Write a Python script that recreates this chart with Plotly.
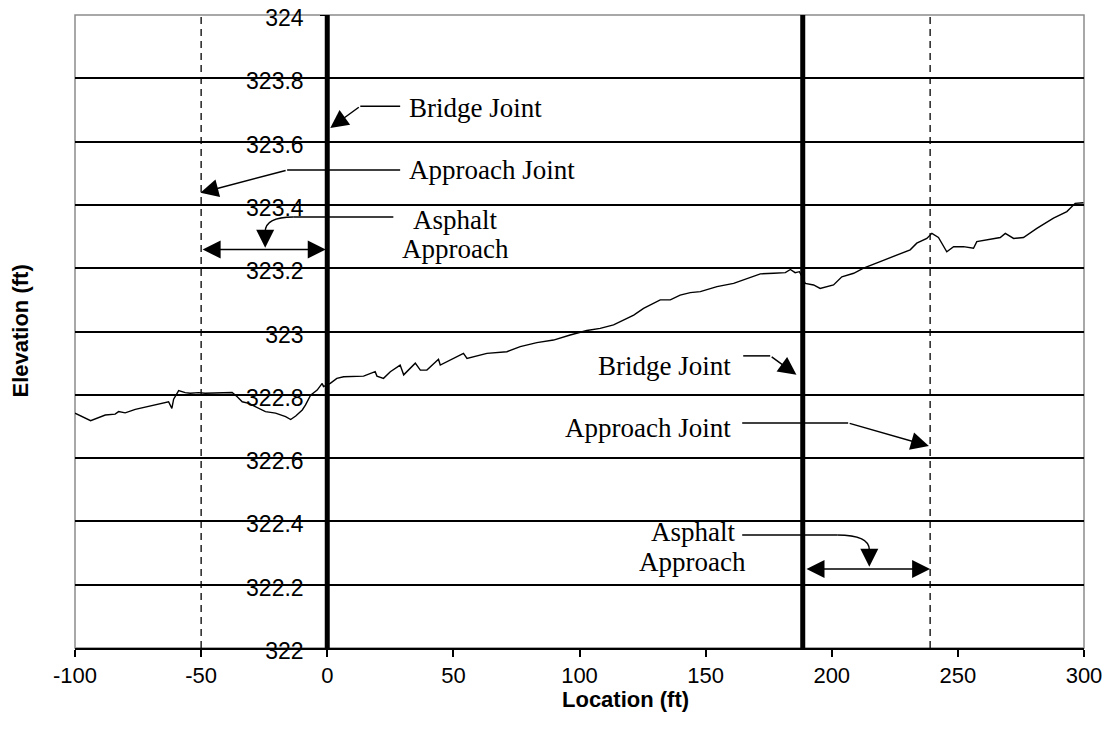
import plotly.graph_objects as go

# ---- data ----
location_ft = [-100, -93.8, -88.0, -84.1, -82.7, -80.1, -76.1, -69.4, -62.9, -61.6, -60.9, -58.9,
               -56.3, -54.3, -51.0, -48.4, -37.7, -35.7, -33.7, -31.1, -27.1, -24.5, -20.5, -16.5,
               -14.5, -12.5, -9.9, -8.6, -6.6, -4.0, -2.0, -1.5, 1.2, 3.8, 6.5, 14.4, 19.0, 19.7,
               22.3, 25.0, 28.9, 30.3, 34.9, 36.9, 39.5, 44.1, 44.8, 50.1, 54.0, 55.4, 63.3, 71.2,
               76.5, 83.1, 89.7, 96.3, 102.9, 108.2, 113.5, 121.5, 125.4, 132.0, 136.0, 139.9,
               143.9, 147.9, 154.5, 161.1, 166.4, 171.7, 177.0, 181.6, 183.6, 185.5, 187.2, 189.5,
               192.8, 195.4, 200.7, 204.0, 208.7, 212.6, 219.2, 225.8, 231.1, 233.7, 237.7, 239.7,
               242.3, 245.6, 248.3, 252.2, 256.2, 257.5, 261.5, 266.8, 268.8, 272.1, 276.0, 281.3,
               287.9, 293.2, 296.5, 299.8]
elevation_ft = [322.742, 322.718, 322.736, 322.739, 322.747, 322.743, 322.754, 322.765, 322.778,
                322.757, 322.786, 322.813, 322.807, 322.805, 322.807, 322.805, 322.807, 322.794,
                322.778, 322.773, 322.757, 322.747, 322.742, 322.731, 322.722, 322.733, 322.752,
                322.768, 322.799, 322.815, 322.836, 322.826, 322.836, 322.852, 322.857, 322.859,
                322.873, 322.859, 322.852, 322.873, 322.894, 322.863, 322.900, 322.878, 322.878,
                322.912, 322.894, 322.915, 322.931, 322.915, 322.931, 322.936, 322.952, 322.965,
                322.973, 322.989, 323.003, 323.010, 323.021, 323.052, 323.073, 323.100, 323.100,
                323.115, 323.123, 323.126, 323.142, 323.152, 323.168, 323.182, 323.184, 323.186,
                323.196, 323.186, 323.189, 323.152, 323.147, 323.136, 323.147, 323.173, 323.184,
                323.200, 323.221, 323.242, 323.258, 323.279, 323.294, 323.310, 323.297, 323.252,
                323.268, 323.268, 323.263, 323.284, 323.289, 323.297, 323.310, 323.294, 323.297,
                323.326, 323.358, 323.379, 323.405, 323.407]

bridge_joints = [0, 188.5]
approach_joints = [-50, 239]
x_range = [-100, 300]
y_range = [322, 324]
x_ticks = [-100, -50, 0, 50, 100, 150, 200, 250, 300]
x_tick_labels = ["-100", "-50", "0", "50", "100", "150", "200", "250", "300"]
y_ticks = [322, 322.2, 322.4, 322.6, 322.8, 323, 323.2, 323.4, 323.6, 323.8, 324]
y_tick_labels = ["322", "322.2", "322.4", "322.6", "322.8", "323", "323.2", "323.4", "323.6", "323.8", "324"]

SERIF = "Liberation Serif, Times New Roman, serif"
SANS = "Liberation Sans, Arial, sans-serif"

FIG_W, FIG_H = 1109, 745
ML, MR, MT, MB = 75, 25, 15, 97
PW = FIG_W - ML - MR
PH = FIG_H - MT - MB

fig = go.Figure()
fig.add_trace(go.Scatter(x=location_ft, y=elevation_ft, mode="lines",
                         line=dict(color="black", width=1.4), showlegend=False, hoverinfo="skip"))

shapes = []
# plot border (grey)
shapes.append(dict(type="rect", xref="paper", yref="paper", x0=0, x1=1, y0=0, y1=1,
                   line=dict(color="#8c8c8c", width=1.5), layer="below"))
for bj in bridge_joints:
    shapes.append(dict(type="line", xref="x", yref="y", x0=bj, x1=bj, y0=y_range[0], y1=y_range[1],
                       line=dict(color="black", width=5)))
for aj in approach_joints:
    shapes.append(dict(type="line", xref="x", yref="y", x0=aj, x1=aj, y0=y_range[0], y1=y_range[1],
                       line=dict(color="black", width=1.3, dash="7px,5px")))

def hline(xa, xb, y):
    shapes.append(dict(type="line", xref="x", yref="y", x0=xa, x1=xb, y0=y, y1=y,
                       line=dict(color="black", width=1.5)))

def curve(x0, y0, cx, cy, x1, y1):
    shapes.append(dict(type="path", xref="x", yref="y",
                       path=f"M {x0},{y0} Q {cx},{cy} {x1},{y1}",
                       line=dict(color="black", width=1.5)))

annotations = []

def arrow(tail, tip, both=False):
    annotations.append(dict(x=tip[0], y=tip[1], ax=tail[0], ay=tail[1], xref="x", yref="y",
                            axref="x", ayref="y", text="", showarrow=True, arrowhead=2,
                            arrowsize=2.4, arrowwidth=1.5, arrowcolor="black", standoff=0,
                            startstandoff=0, arrowside="end+start" if both else "end",
                            startarrowhead=2, startarrowsize=2.4))

def label(text, x, y, xanchor):
    annotations.append(dict(x=x, y=y, xref="x", yref="y", text=text, showarrow=False,
                            xanchor=xanchor, yanchor="middle",
                            font=dict(family=SERIF, size=27, color="black")))

# Left side callouts
label("Bridge Joint", 31.7, 323.706, "left")
hline(28.9, 13.1, 323.712)
arrow((13.1, 323.712), (1.2, 323.643))

label("Approach Joint", 31.7, 323.510, "left")
hline(28.9, -15.9, 323.510)
arrow((-15.9, 323.510), (-50.3, 323.438))

label("Asphalt", 50.7, 323.352, "center")
label("Approach", 50.7, 323.261, "center")
hline(26.2, -13.5, 323.362)
curve(-13.5, 323.362, -24.6, 323.362, -24.6, 323.315)
arrow((-24.6, 323.315), (-24.6, 323.265))
arrow((-50, 323.259), (-0.6, 323.259), both=True)

# Right side callouts
label("Bridge Joint", 161.0, 322.891, "right")
hline(164.9, 175.6, 322.923)
arrow((175.6, 322.923), (186.0, 322.863))

label("Approach Joint", 161.0, 322.695, "right")
hline(164.5, 206.5, 322.711)
arrow((206.5, 322.711), (238.5, 322.638))

label("Asphalt", 144.9, 322.367, "center")
label("Approach", 144.9, 322.272, "center")
hline(164.5, 202.2, 322.357)
curve(202.2, 322.357, 214.9, 322.357, 214.9, 322.31)
arrow((214.9, 322.31), (214.9, 322.257))
arrow((189.4, 322.250), (239, 322.250), both=True)

# axis titles (paper coordinates)
annotations.append(dict(x=(625 - ML) / PW, y=-(699 - (MT + PH)) / PH, xref="paper", yref="paper",
                        text="<b>Location (ft)</b>", showarrow=False, xanchor="center", yanchor="middle",
                        font=dict(family=SANS, size=22, color="black")))
annotations.append(dict(x=-(ML - 20) / PW, y=0.5, xref="paper", yref="paper",
                        text="<b>Elevation (ft)</b>", textangle=-90, showarrow=False,
                        xanchor="center", yanchor="middle",
                        font=dict(family=SANS, size=22, color="black")))

fig.update_layout(
    width=FIG_W, height=FIG_H,
    margin=dict(l=ML, r=MR, t=MT, b=MB, autoexpand=False),
    paper_bgcolor="white", plot_bgcolor="white",
    shapes=shapes,
    annotations=annotations,
    showlegend=False,
    xaxis=dict(range=x_range, tickvals=x_ticks, ticktext=x_tick_labels, ticks="outside", ticklen=7,
               tickwidth=1.5, tickcolor="black", showline=True, linecolor="black", linewidth=1.5,
               showgrid=False, zeroline=False, automargin=False,
               tickfont=dict(family=SANS, size=22, color="black")),
    yaxis=dict(range=y_range, tickvals=y_ticks, ticktext=y_tick_labels, anchor="free", position=0.25,
               ticks="outside", ticklen=7, tickcolor="black", showline=False, automargin=False,
               ticklabelstandoff=12, ticklabeloverflow="allow", ticklabelshift=3,
               showgrid=True, gridcolor="black", gridwidth=1.5, zeroline=False,
               tickfont=dict(family=SANS, size=23, color="black")),
)

fig.write_html("out.html", config={"displayModeBar": False},
               post_script="document.body.style.margin='0px';")
